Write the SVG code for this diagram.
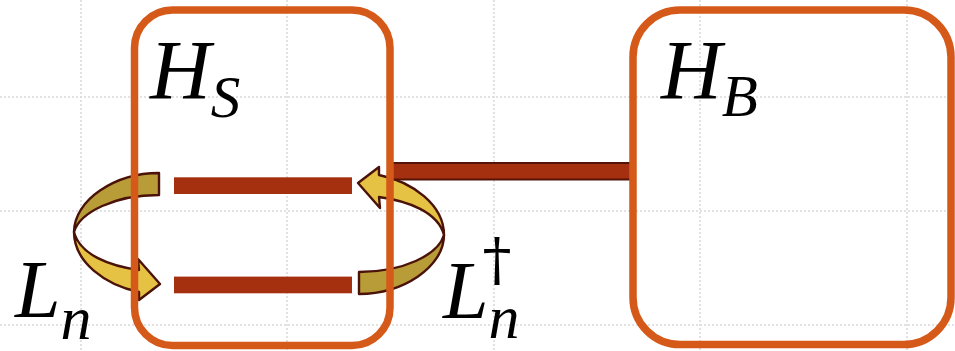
<svg xmlns="http://www.w3.org/2000/svg" xmlns:xlink="http://www.w3.org/1999/xlink" width="955" height="351" viewBox="0 0 955 351">
<style>
.grid{stroke:#d9d9d9;stroke-width:1.5;stroke-dasharray:2 2;fill:none}
.box{fill:none;stroke:#d55a1a;stroke-width:7.5}
.lvl{fill:#a5300f}
.bar{fill:#a5300f;stroke:#551408;stroke-width:2}
.olive{fill:#b89c38;stroke:#4a1208;stroke-width:2.4;stroke-linejoin:round}
.yel{fill:#e5c243;stroke:#4a1208;stroke-width:2.4;stroke-linejoin:round}
.m{font-family:"Liberation Serif","DejaVu Serif",serif;font-style:italic;fill:#000}
.up{font-style:normal;font-family:"DejaVu Serif",serif}
</style>
<defs>
<g id="curv">
<path class="olive" d="M159,173 C115,173 74,200 74,232 C80,212 115,195 159,195 Z"/>
<path class="yel" d="M74,232 C74,262 105,285 139,292 L139,300 L160,284 L138,259 L139,270 C110,266 80,255 74,232 Z"/>
</g>
</defs>
<rect width="955" height="351" fill="#fff"/>
<g id="grid">
<path class="grid" d="M81,0V351M287,0V351M494,0V351M700,0V351M907,0V351M0,97H955M0,211H955M0,325H955"/>
</g>
<g id="connectors">
<use xlink:href="#curv" href="#curv"/>
<use xlink:href="#curv" href="#curv" transform="rotate(180 259 233.5)"/>
<rect class="bar" x="390.5" y="163" width="243" height="16.5" rx="3"/>
<text class="m" x="15" y="317" font-size="82">L<tspan font-size="62" dy="22">n</tspan></text>
<text class="m" x="443" y="318" font-size="82">L<tspan font-size="62" dy="20">n</tspan><tspan class="up" font-size="58" dx="-37" dy="-59">†</tspan></text>
</g>
<g id="node-HS">
<rect class="box" x="134.5" y="10" width="255.5" height="335.5" rx="38"/>
<rect class="lvl" x="174" y="177.3" width="178" height="16.7"/>
<rect class="lvl" x="174" y="276.6" width="178" height="16.7"/>
<text class="m" x="150" y="99" font-size="84">H<tspan font-size="59" dy="18">S</tspan></text>
</g>
<g id="node-HB">
<rect class="box" x="633" y="10" width="318" height="334.5" rx="47"/>
<text class="m" x="661" y="99" font-size="84">H<tspan font-size="59" dy="17">B</tspan></text>
</g>
</svg>
